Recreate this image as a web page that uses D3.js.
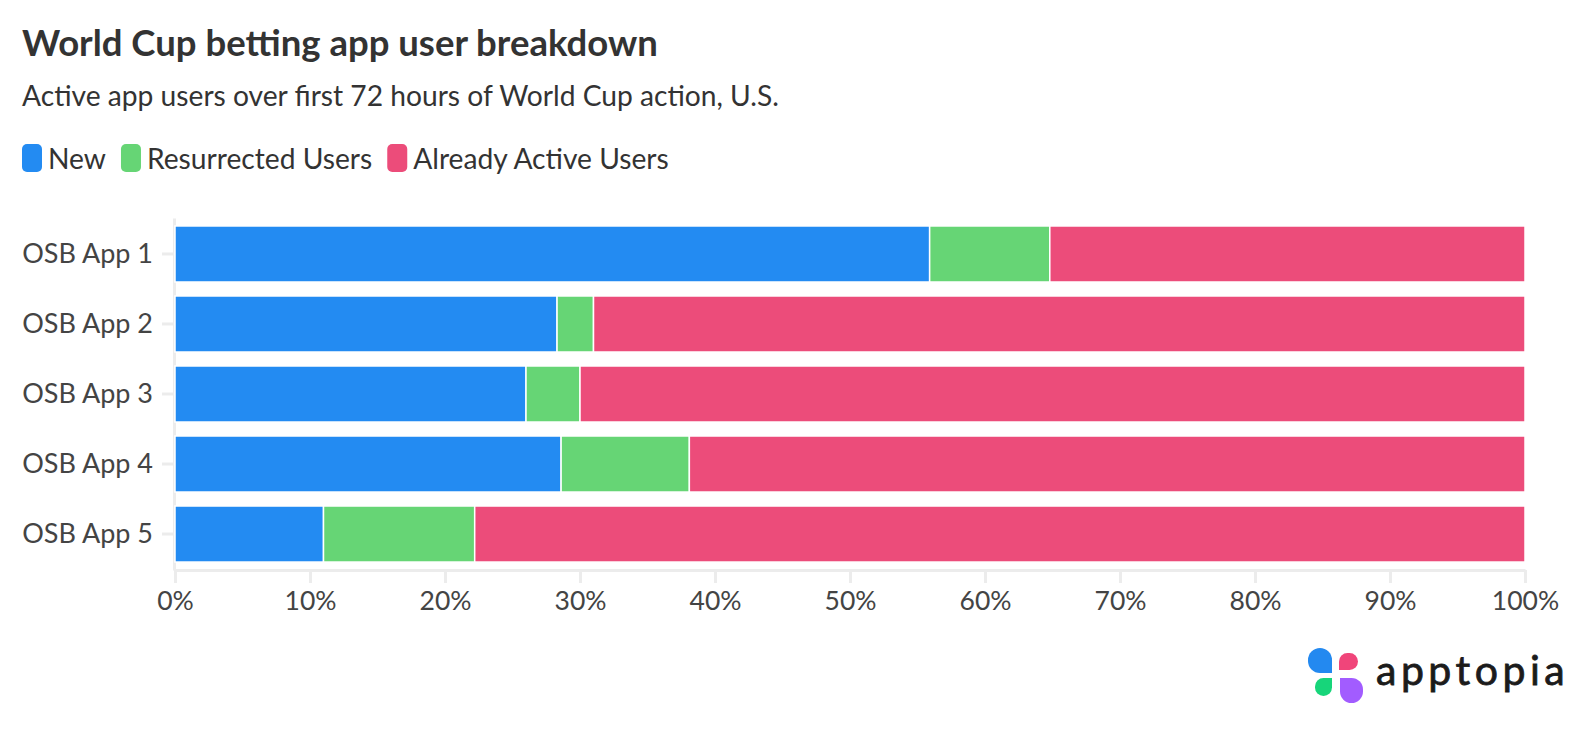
<!DOCTYPE html>
<html>
<head>
<meta charset="utf-8">
<script src="https://cdn.jsdelivr.net/npm/d3@7"></script>
<style>
  html, body { margin: 0; padding: 0; background: #fff; }
  svg { display: block; }
  text { font-family: Lato, "Noto Sans", sans-serif; }
</style>
</head>
<body>
<svg id="chart" width="1588" height="730"></svg>
<script>
// ---- Data ----
const categories = ["OSB App 1", "OSB App 2", "OSB App 3", "OSB App 4", "OSB App 5"];
const seriesNames = ["New", "Resurrected Users", "Already Active Users"];
const newUsers = [55.9, 28.3, 26.0, 28.6, 11.0];
const resurrectedUsers = [8.9, 2.7, 4.0, 9.5, 11.2];
const alreadyActiveUsers = [35.2, 69.0, 70.0, 61.9, 77.8];
const tickValues = [0, 10, 20, 30, 40, 50, 60, 70, 80, 90, 100];
const tickLabels = ["0%", "10%", "20%", "30%", "40%", "50%", "60%", "70%", "80%", "90%", "100%"];
const titleText = "World Cup betting app user breakdown";
const subtitleText = "Active app users over first 72 hours of World Cup action, U.S.";

// ---- Styles ----
const colors = ["#238BF2", "#66D575", "#EC4C7A"];
const textColor = "#333333";
const axisColor = "#ececec";

const svg = d3.select("#chart");

const table = categories.map((c, i) => ({
  category: c,
  "New": newUsers[i],
  "Resurrected Users": resurrectedUsers[i],
  "Already Active Users": alreadyActiveUsers[i]
}));

const stack = d3.stack().keys(seriesNames);
const stacked = stack(table);

const x = d3.scaleLinear().domain([0, 100]).range([175, 1525]);
const y = d3.scaleBand().domain(categories).range([218, 570]).paddingInner(0.2).paddingOuter(0.114);
const color = d3.scaleOrdinal().domain(seriesNames).range(colors);

// Title / subtitle
svg.append("text")
  .attr("x", 22).attr("y", 56)
  .attr("font-size", 36.5).attr("font-weight", 700)
  .attr("fill", textColor)
  .text(titleText);

svg.append("text")
  .attr("x", 22).attr("y", 106)
  .attr("font-size", 28.2)
  .attr("fill", textColor)
  .text(subtitleText);

// Legend
const legend = svg.append("g").attr("transform", "translate(22,144)");
let lx = 0;
seriesNames.forEach((name, i) => {
  const g = legend.append("g").attr("transform", `translate(${lx},0)`);
  g.append("rect").attr("width", 20).attr("height", 28).attr("rx", 5)
    .attr("fill", color(name));
  const t = g.append("text").attr("x", 26).attr("y", 25)
    .attr("font-size", 28.2).attr("fill", textColor).text(name);
  const w = t.node().getComputedTextLength();
  lx += 26 + w + 15;
});

// Axes
const xAxisG = svg.append("g").attr("transform", `translate(0,${570})`)
  .call(d3.axisBottom(x).tickValues(tickValues).tickFormat((d, i) => tickLabels[i]).tickSize(13).tickSizeOuter(0).tickPadding(8));
xAxisG.select(".domain").attr("stroke", axisColor).attr("stroke-width", 3);
xAxisG.selectAll(".tick line").attr("stroke", axisColor).attr("stroke-width", 3);
xAxisG.selectAll(".tick text").attr("font-size", 26.5).attr("fill", "#444").attr("font-family", "Lato");

const yAxisG = svg.append("g").attr("transform", `translate(${174},0)`)
  .call(d3.axisLeft(y).tickSize(12).tickSizeOuter(0).tickPadding(9));
yAxisG.select(".domain").attr("stroke", axisColor).attr("stroke-width", 3);
yAxisG.selectAll(".tick line").attr("stroke", axisColor).attr("stroke-width", 3);
yAxisG.selectAll(".tick text").attr("font-size", 27).attr("fill", "#444").attr("font-family", "Lato");

// Bars
svg.append("g")
  .selectAll("g")
  .data(stacked)
  .join("g")
  .attr("fill", d => color(d.key))
  .selectAll("rect")
  .data(d => d)
  .join("rect")
  .attr("x", d => x(d[0]))
  .attr("y", d => y(d.data.category))
  .attr("width", d => x(d[1]) - x(d[0]))
  .attr("height", y.bandwidth())
  .attr("stroke", "#fff")
  .attr("stroke-width", 1.5);

// Logo
const logo = svg.append("g");
function petal(x0, y0, w, h, r, inner) {
  const rtl = inner === "tl" ? 0 : r, rtr = inner === "tr" ? 0 : r,
        rbr = inner === "br" ? 0 : r, rbl = inner === "bl" ? 0 : r;
  const x1 = x0 + w, y1 = y0 + h;
  return `M${x0 + rtl},${y0} L${x1 - rtr},${y0} A${rtr},${rtr} 0 0 1 ${x1},${y0 + rtr}
          L${x1},${y1 - rbr} A${rbr},${rbr} 0 0 1 ${x1 - rbr},${y1}
          L${x0 + rbl},${y1} A${rbl},${rbl} 0 0 1 ${x0},${y1 - rbl}
          L${x0},${y0 + rtl} A${rtl},${rtl} 0 0 1 ${x0 + rtl},${y0} Z`;
}
logo.append("path").attr("d", petal(1308, 648, 24, 25, 12, "br")).attr("fill", "#2389F0");
logo.append("path").attr("d", petal(1339, 653, 19, 17, 8.5, "bl")).attr("fill", "#F0457A");
logo.append("path").attr("d", petal(1315, 678, 17, 18, 8.5, "tr")).attr("fill", "#17D57A");
logo.append("path").attr("d", petal(1340, 678, 23, 25, 11.5, "tl")).attr("fill", "#A25CFF");
logo.append("text").attr("x", 1376).attr("y", 685)
  .attr("font-family", "'DejaVu Sans', sans-serif")
  .attr("font-size", 41).attr("fill", "#1b1b1b").attr("letter-spacing", 4.5)
  .attr("stroke", "#1b1b1b").attr("stroke-width", 0.8)
  .text("apptopia");
</script>
</body>
</html>
